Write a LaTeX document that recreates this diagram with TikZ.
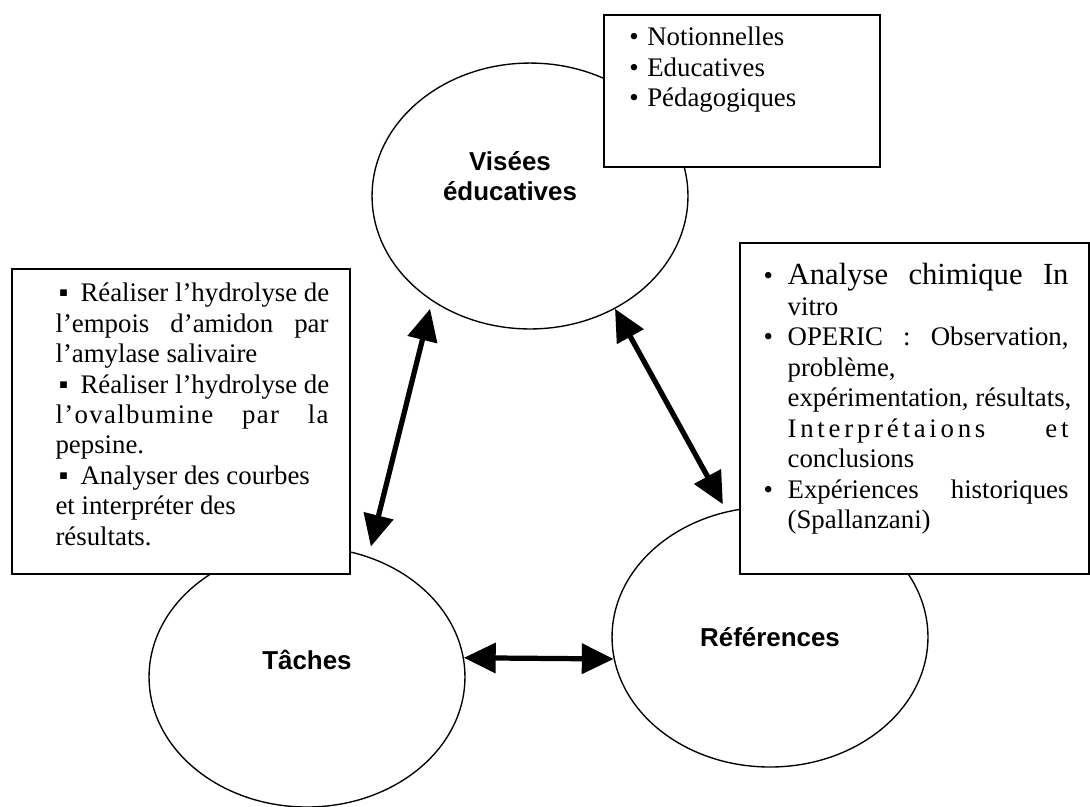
\documentclass[tikz,border=0pt]{standalone}
\usepackage{fontspec}
\setmainfont{Liberation Serif}
\setsansfont{Liberation Sans}
\usetikzlibrary{shapes.geometric,arrows.meta,positioning}

\newcommand\spreadbox[2]{\leavevmode\hbox to #1{\spaceskip=0.25em plus 1fil\xspaceskip=0.25em plus 1fil\relax#2}}
\newcommand\sqbul{\makebox[11pt][l]{\hspace*{1.5pt}▪}}
\newcommand\dotbul{\makebox[7.9pt][l]{•}}
\newcommand\lline[1]{\spreadbox{120.1pt}{#1}}
\newcommand\rline[1]{\makebox[10.6pt][l]{•}\spreadbox{123.6pt}{#1}}
\newcommand\rcont[1]{\hspace*{10.6pt}#1}

\tikzset{
  bubble/.style={draw, ellipse, line width=0.6pt, minimum width=139pt, inner sep=0pt},
  bubblelabel/.style={align=center, inner sep=0pt, font=\fontsize{11.4}{13.5}\selectfont\sffamily\bfseries},
  infobox/.style={draw, line width=0.9pt, fill=white, anchor=north west, inner sep=0pt},
  infotext/.style={inner sep=0pt, align=flush left, font=\fontsize{11.8}{13.4}\selectfont},
  link/.style={line width=2.3pt, {Triangle[length=14pt,width=13pt]}-{Triangle[length=14pt,width=13pt]}}
}

\begin{document}
\begin{tikzpicture}[x=0.44pt,y=-0.44pt]
\useasboundingbox (0,0) rectangle (1090,806);
% the three poles
\node (vis) [bubble, minimum height=117pt,
  label={[bubblelabel, name=vislabel, xshift=-8.8pt, yshift=8.8pt]center:Visées\\éducatives}] at (530,196) {};
\node (tac) [bubble, minimum height=114.4pt,
  label={[bubblelabel, name=taclabel, yshift=7.5pt]center:Tâches}] at (307,677) {};
\node (ref) [bubble, minimum height=114.4pt,
  label={[bubblelabel, name=reflabel]center:Références}] at (770,637) {};
\foreach \from/\to/\gapfrom/\gapto in {vis.227/tac.63/3.5pt/4.5pt, vis.307/ref.109/0pt/3.5pt, tac.7/ref.188/0pt/0pt}
\draw[link, shorten <=\gapfrom, shorten >=\gapto] (\from) -- (\to);
% boxes
\node (notions) [infobox, minimum width=121.4pt, minimum height=66.9pt] at (603,14) {};
\node (notionslist) [infotext, text width=100pt, below right=5.6pt and 11.4pt of notions.north west]
  {\dotbul Notionnelles\\ \dotbul Educatives\\ \dotbul Pédagogiques};
\node (tacbox) [infobox, minimum width=148.7pt, minimum height=134.2pt] at (11,268) {};
\node (taclist) [infotext, text width=125pt, below right=6.4pt and 19.4pt of tacbox.north west]
  {\lline{\sqbul Réaliser l’hydrolyse de}\\
   \lline{l’empois d’amidon par}\\
   l’amylase salivaire\\
   \lline{\sqbul Réaliser l’hydrolyse de}\\
   \lline{\addfontfeature{LetterSpace=5}l’ovalbumine par la}\\
   pepsine.\\
   \sqbul Analyser des courbes\\
   et interpréter des\\
   résultats.};
\node (refbox) [infobox, minimum width=153.6pt, minimum height=145.6pt] at (739,242) {};
\node (reflist) [infotext, text width=140pt, below right=9.3pt and 10.6pt of refbox.north west]
  {\rline{\fontsize{13.5}{13.4}\selectfont Analyse chimique In}\\
   \rcont{vitro}\\
   \rline{OPERIC : Observation,}\\
   \rcont{problème,}\\
   \rcont{expérimentation, résultats,}\\
   \rcont{\spreadbox{123.6pt}{\addfontfeature{LetterSpace=14}Interprétaions et}}\\
   \rcont{conclusions}\\
   \rline{Expériences historiques}\\
   \rcont{(Spallanzani)}};
\end{tikzpicture}
\end{document}
